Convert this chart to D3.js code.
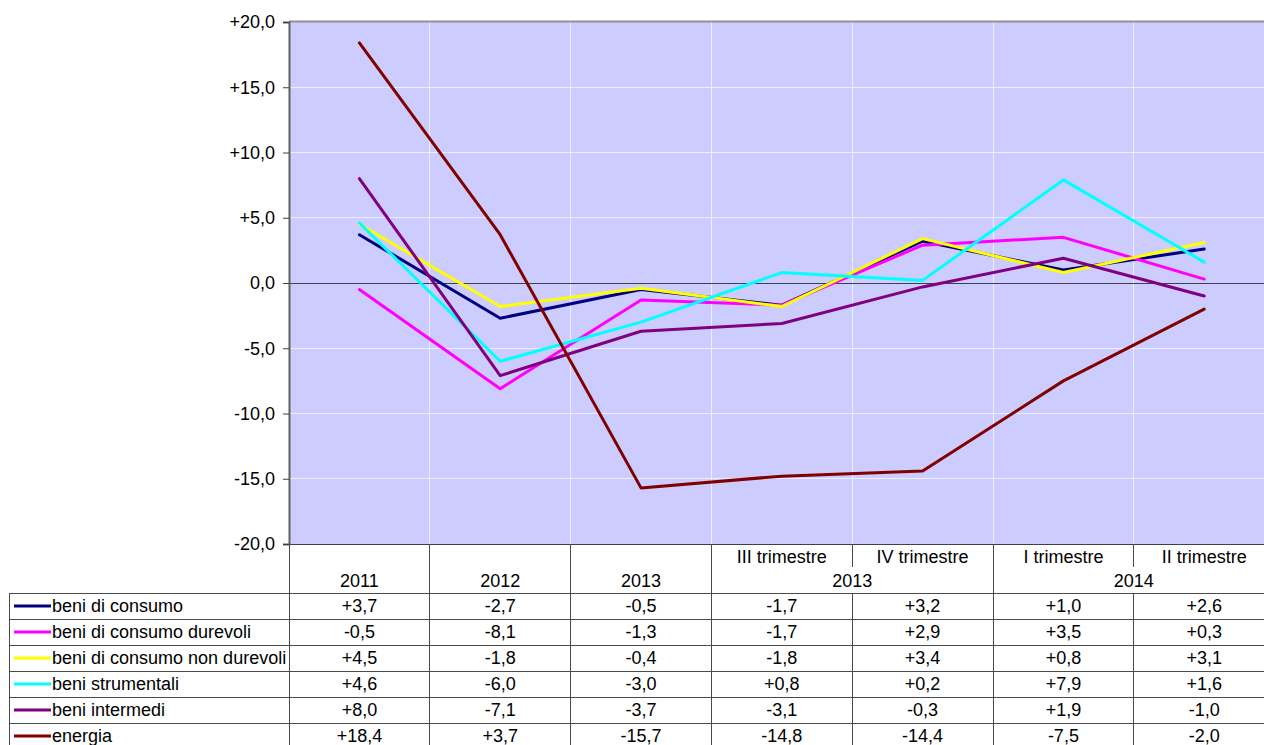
<!DOCTYPE html>
<html>
<head>
<meta charset="utf-8">
<script src="https://cdn.jsdelivr.net/npm/d3@7"></script>
<style>
  body { margin: 0; background: #fff; overflow: hidden; }
  text { font-family: 'Liberation Sans', Arial, sans-serif; font-size: 18px; fill: #000; }
</style>
</head>
<body>
<div id="mainGraph"></div>
<script>
// data
// -----------------------------------------------
let categories = ['2011', '2012', '2013', 'III trimestre', 'IV trimestre', 'I trimestre', 'II trimestre'];
let groupLabels = ['', '', '', '2013', '', '2014', ''];
let seriesNames = [
  'beni di consumo',
  'beni di consumo durevoli',
  'beni di consumo non durevoli',
  'beni strumentali',
  'beni intermedi',
  'energia',
];
let seriesColors = ['#000080', '#ff00ff', '#ffff00', '#00ffff', '#800080', '#800000'];
let beniConsumo = [3.7, -2.7, -0.5, -1.7, 3.2, 1.0, 2.6];
let beniDurevoli = [-0.5, -8.1, -1.3, -1.7, 2.9, 3.5, 0.3];
let beniNonDurevoli = [4.5, -1.8, -0.4, -1.8, 3.4, 0.8, 3.1];
let beniStrumentali = [4.6, -6.0, -3.0, 0.8, 0.2, 7.9, 1.6];
let beniIntermedi = [8.0, -7.1, -3.7, -3.1, -0.3, 1.9, -1.0];
let energia = [18.4, 3.7, -15.7, -14.8, -14.4, -7.5, -2.0];
let yTicks = [-20, -15, -10, -5, 0, 5, 10, 15, 20];

let allSeries = [beniConsumo, beniDurevoli, beniNonDurevoli, beniStrumentali, beniIntermedi, energia];

// margin and sizes
// -----------------------------------------------
let width = 1264,
  height = 745;
let plot = { left: 289, top: 22, bottom: 544, colW: 140.8 };
let table = { left: 9, headTop: 544, top: 593, rowH: 26 };

let fmt = (v) => (v > 0 ? '+' : '') + v.toFixed(1).replace('.', ',');

// -----------------------------------------------
let x = d3
  .scaleBand()
  .domain(categories)
  .range([plot.left, plot.left + plot.colW * categories.length]);

let y = d3.scaleLinear().domain([-20, 20]).range([plot.bottom, plot.top]);

let cx = (i) => x(categories[i]) + x.bandwidth() / 2;
let px = (v) => Math.floor(v) + 0.5; // crisp 1px lines

const svg = d3
  .select('#mainGraph')
  .append('svg')
  .attr('width', width)
  .attr('height', height)
  .attr('viewBox', [0, 0, width, height]);

// plot background
svg
  .append('rect')
  .attr('x', plot.left)
  .attr('y', plot.top)
  .attr('width', x.range()[1] - plot.left)
  .attr('height', plot.bottom - plot.top)
  .attr('fill', '#ccccff');

// white grid lines
svg
  .append('g')
  .selectAll('line')
  .data(yTicks.filter((d) => d !== 0 && d !== -20 && d !== 20))
  .join('line')
  .attr('x1', plot.left)
  .attr('x2', x.range()[1])
  .attr('y1', (d) => px(y(d)))
  .attr('y2', (d) => px(y(d)))
  .attr('stroke', '#eeeeff')
  .attr('stroke-width', 1);

svg
  .append('g')
  .selectAll('line')
  .data(categories.slice(1))
  .join('line')
  .attr('x1', (d) => px(x(d)))
  .attr('x2', (d) => px(x(d)))
  .attr('y1', plot.top)
  .attr('y2', plot.bottom)
  .attr('stroke', '#eeeeff')
  .attr('stroke-width', 1);

// top border and zero / bottom lines
svg
  .append('line')
  .attr('x1', plot.left)
  .attr('x2', x.range()[1])
  .attr('y1', plot.top - 0.5)
  .attr('y2', plot.top - 0.5)
  .attr('stroke', '#909090')
  .attr('stroke-width', 2);

svg
  .append('g')
  .selectAll('line')
  .data([0, -20])
  .join('line')
  .attr('x1', plot.left)
  .attr('x2', x.range()[1])
  .attr('y1', (d) => px(y(d)))
  .attr('y2', (d) => px(y(d)))
  .attr('stroke', '#404048')
  .attr('stroke-width', 1);

// y axis
svg
  .append('g')
  .attr('transform', `translate(${plot.left},0)`)
  .call(d3.axisLeft(y).tickValues(yTicks).tickFormat(fmt).tickSize(6).tickPadding(8))
  .call((g) => g.selectAll('.domain').attr('stroke', '#606060').attr('stroke-width', 2))
  .call((g) => g.selectAll('.tick line').attr('stroke', '#404040'))
  .call((g) => g.selectAll('text').attr('font-size', 18).attr('font-family', null));

// lines
let line = d3
  .line()
  .x((d, i) => cx(i))
  .y((d) => y(d));

svg
  .append('g')
  .selectAll('path')
  .data(allSeries)
  .join('path')
  .attr('d', line)
  .attr('fill', 'none')
  .attr('stroke', (d, i) => seriesColors[i])
  .attr('stroke-width', 3)
  .attr('stroke-linejoin', 'round')
  .attr('stroke-linecap', 'round');

// table
// -----------------------------------------------
let tableRight = x.range()[1];
let rowsBottom = table.top + table.rowH * seriesNames.length;
let lineColor = '#4a4a4a';

let tg = svg.append('g');

// horizontal lines
tg.selectAll('.hline')
  .data(d3.range(seriesNames.length + 1))
  .join('line')
  .attr('class', 'hline')
  .attr('x1', table.left)
  .attr('x2', tableRight)
  .attr('y1', (d) => table.top + d * table.rowH + 0.5)
  .attr('y2', (d) => table.top + d * table.rowH + 0.5)
  .attr('stroke', lineColor);

// vertical lines in data rows
tg.selectAll('.vline')
  .data([table.left].concat(categories.map((c) => x(c))))
  .join('line')
  .attr('class', 'vline')
  .attr('x1', (d) => px(d))
  .attr('x2', (d) => px(d))
  .attr('y1', table.top)
  .attr('y2', rowsBottom)
  .attr('stroke', lineColor);

// vertical lines in header: full between groups, short between quarters
tg.selectAll('.hdline')
  .data(categories)
  .join('line')
  .attr('class', 'hdline')
  .attr('x1', (d) => px(x(d)))
  .attr('x2', (d) => px(x(d)))
  .attr('y1', table.headTop)
  .attr('y2', (d, i) => (groupLabels[i] === '' && i > 3 ? table.headTop + 23 : table.top))
  .attr('stroke', lineColor);

// header labels
tg.selectAll('.cat')
  .data(categories)
  .join('text')
  .attr('class', 'cat')
  .attr('x', (d, i) => cx(i))
  .attr('y', (d, i) => (i < 3 ? 587 : 563))
  .attr('text-anchor', 'middle')
  .text((d) => d);

tg.selectAll('.grp')
  .data(groupLabels)
  .join('text')
  .attr('class', 'grp')
  .attr('x', (d, i) => x(categories[i]) + x.bandwidth())
  .attr('y', 587)
  .attr('text-anchor', 'middle')
  .text((d) => d);

// legend rows
let rows = tg
  .selectAll('.row')
  .data(seriesNames)
  .join('g')
  .attr('class', 'row')
  .attr('transform', (d, i) => `translate(0,${table.top + i * table.rowH})`);

rows
  .append('line')
  .attr('x1', 14)
  .attr('x2', 51)
  .attr('y1', 13)
  .attr('y2', 13)
  .attr('stroke', (d, i) => seriesColors[i])
  .attr('stroke-width', 3);

rows
  .append('text')
  .attr('x', 52)
  .attr('y', 19)
  .text((d) => d);

rows
  .selectAll('.val')
  .data((d, i) => allSeries[i])
  .join('text')
  .attr('class', 'val')
  .attr('x', (d, i) => cx(i))
  .attr('y', 19)
  .attr('text-anchor', 'middle')
  .text((d) => fmt(d));
</script>
</body>
</html>
